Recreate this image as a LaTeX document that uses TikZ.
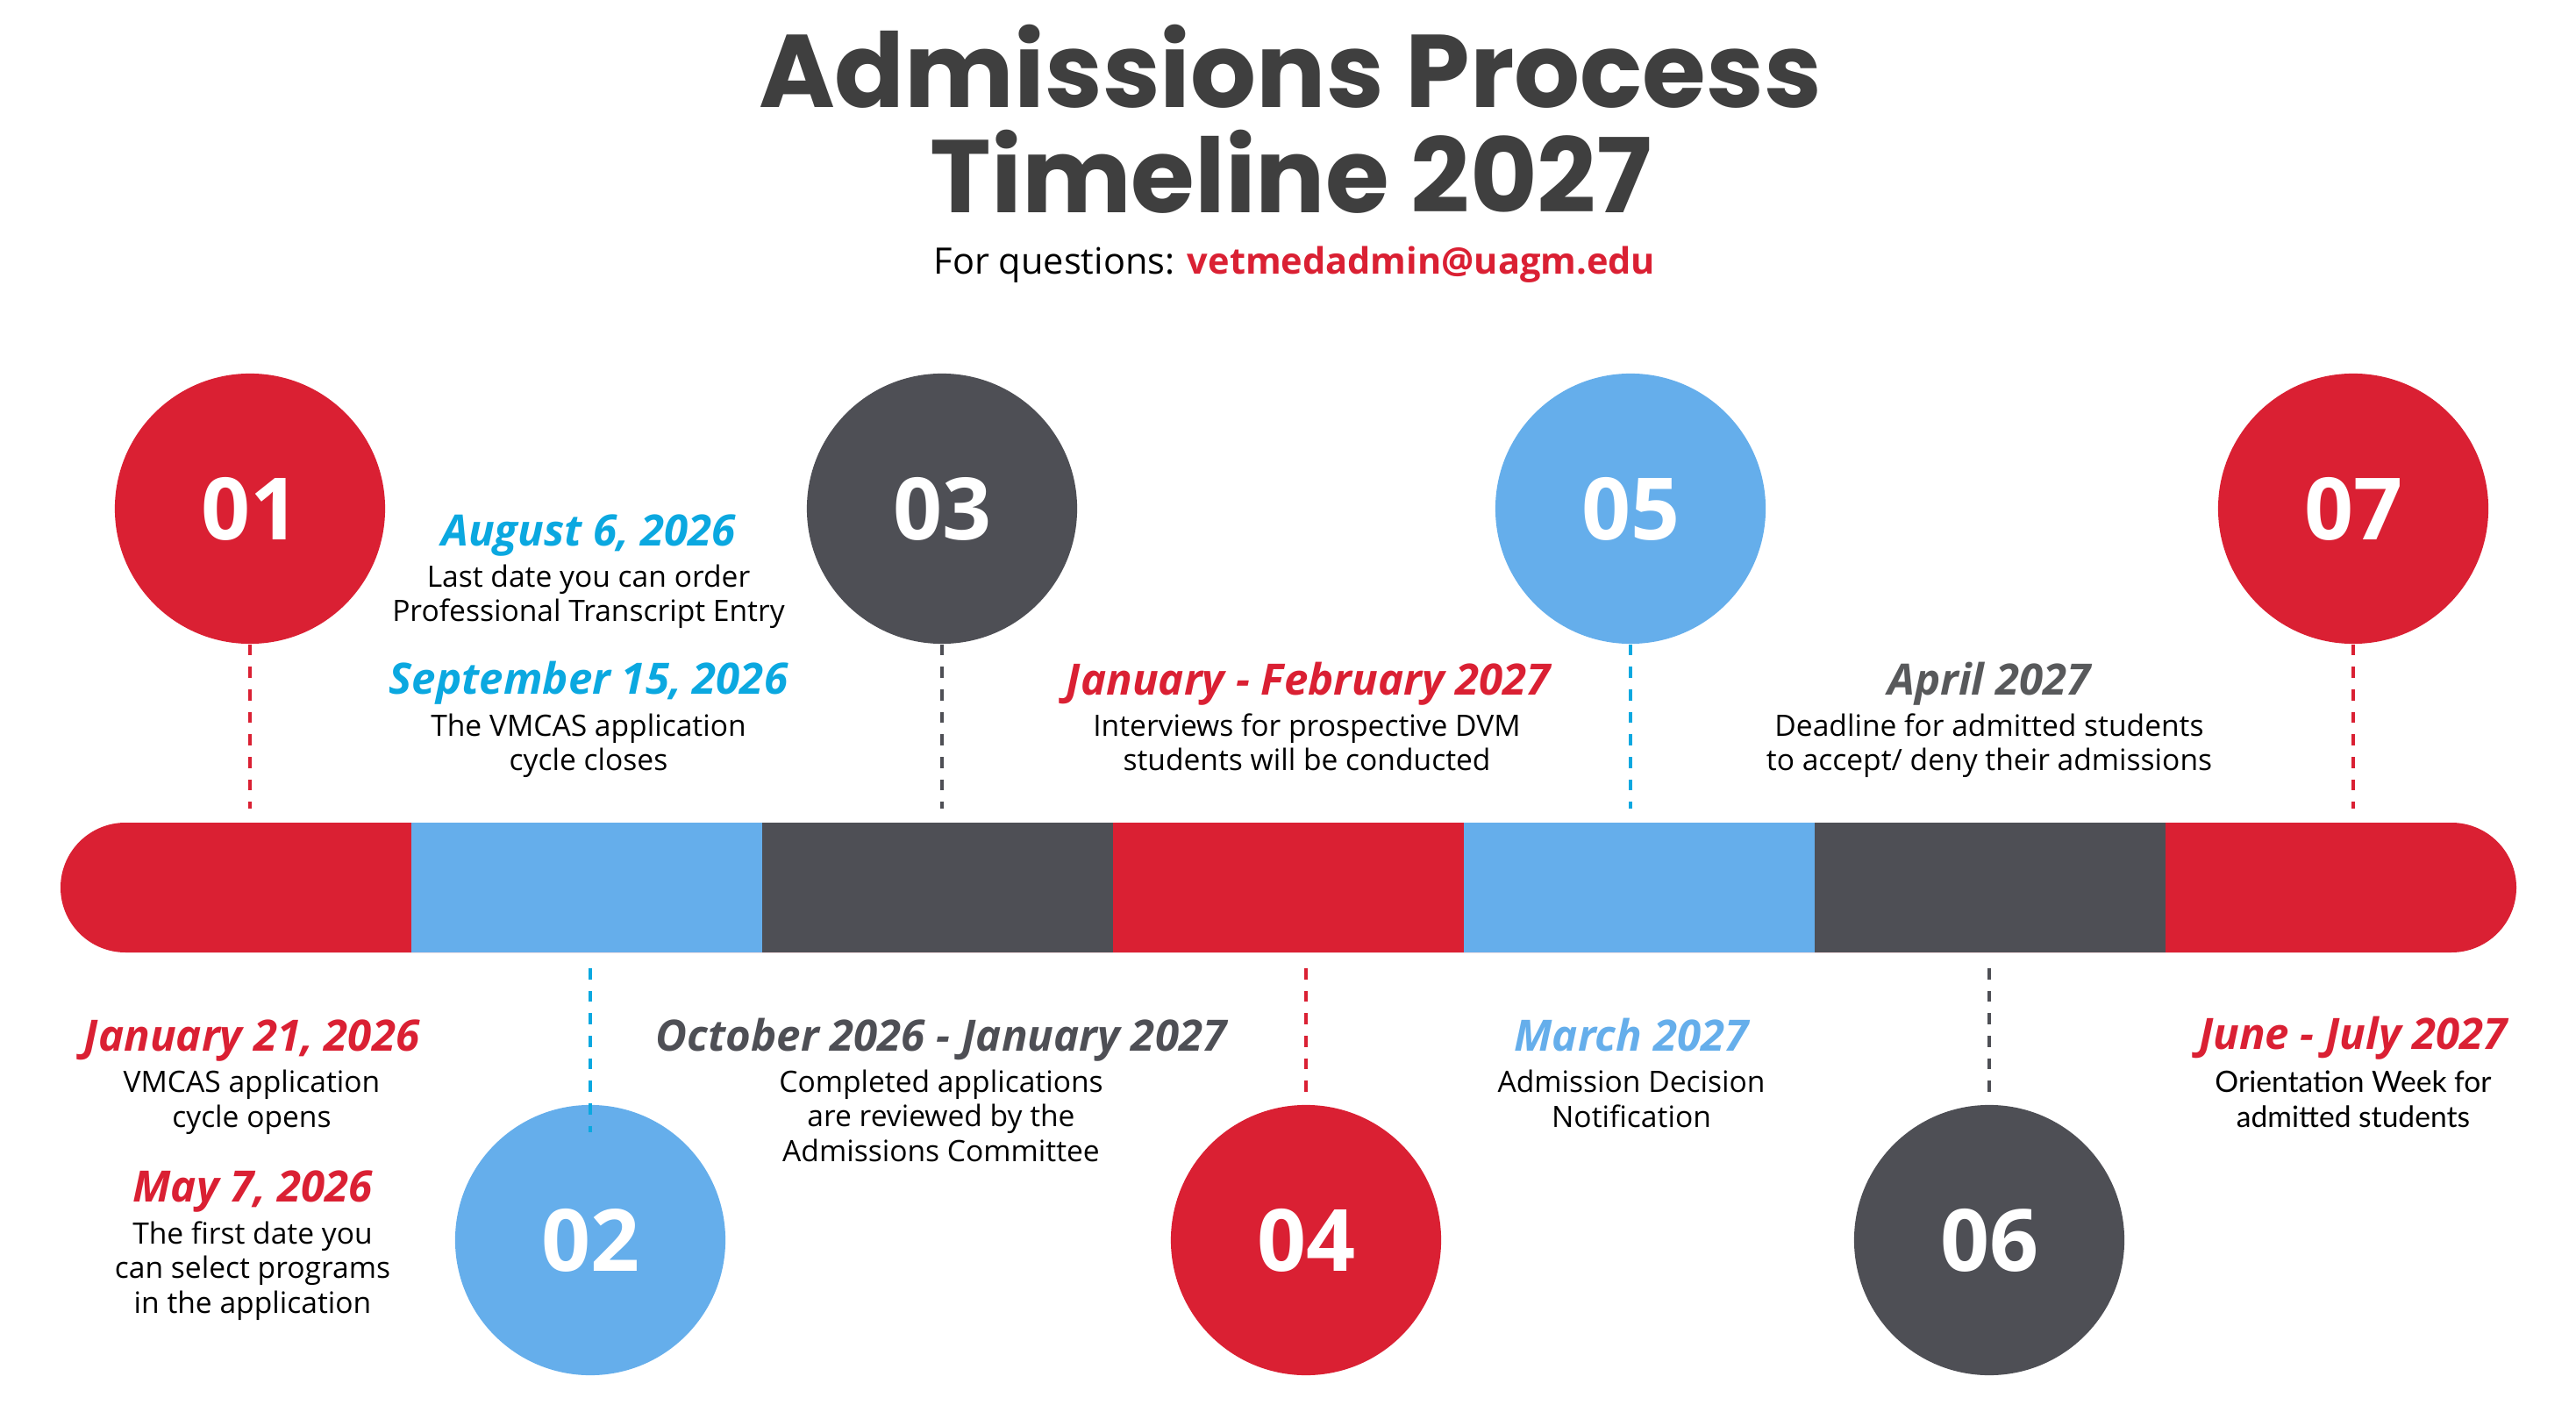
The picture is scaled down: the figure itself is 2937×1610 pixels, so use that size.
\documentclass[tikz,border=0pt]{standalone}
\usepackage{fontspec}
\setmainfont{Open Sans}
\newfontfamily\headfont{Poppins}
\newfontfamily\notefont{Lato}
\definecolor{uared}{HTML}{DA2033}
\definecolor{uablue}{HTML}{65AEEB}
\definecolor{uagray}{HTML}{4E4F55}
\definecolor{uacyan}{HTML}{0BA8E0}
\definecolor{uatitle}{HTML}{3F3F3F}
\definecolor{uaapril}{HTML}{58595B}
\tikzset{
  num/.style={circle, minimum size=3.08cm, inner sep=0pt, text=white,
    font=\fontsize{27.9}{30}\selectfont\bfseries},
  date/.style={anchor=base, font=\fontsize{14}{16}\selectfont\bfseries\itshape},
  desc/.style={anchor=base, align=center, font=\fontsize{9.55}{11.2}\selectfont},
  link/.style={dash pattern=on 3.6pt off 3.7pt, line width=1.3pt},
}
\begin{document}
\begin{tikzpicture}[x=0.01cm, y=-0.01cm]
    \useasboundingbox (0,0) rectangle (2937,1610);
    % heading
    \node[anchor=base, text=uatitle, font=\headfont\fontsize{33.5}{40}\selectfont\bfseries] (head1) at (1471,123) {Admissions Process};
    \node[anchor=base, text=uatitle, font=\headfont\fontsize{33.5}{40}\selectfont\bfseries] (head2) at (1472,243) {Timeline 2027};
    \node[anchor=base, font=\fontsize{11.8}{14}\selectfont] (mail) at (1476,313) {For questions: \textcolor{uared}{\bfseries vetmedadmin@uagm.edu}};
    % bar
    \fill[uared, rounded corners=0.74cm] (69,938) rectangle (2869,1086);
    \foreach \x/\col in {469/uablue, 869/uagray, 1269/uared, 1669/uablue, 2069/uagray}
      \fill[\col] (\x,938) rectangle (\x+400,1086);
    % steps
    \node[num, fill=uared] (c1) at (285,580) {01};
    \node[num, fill=uablue] (c2) at (673,1414) {02};
    \node[num, fill=uagray] (c3) at (1074,580) {03};
    \node[num, fill=uared] (c4) at (1489,1414) {04};
    \node[num, fill=uablue] (c5) at (1859,580) {05};
    \node[num, fill=uagray] (c6) at (2268,1414) {06};
    \node[num, fill=uared] (c7) at (2683,580) {07};
    \coordinate (t1) at (285,922);
    \coordinate (b2) at (673,1104);
    \coordinate (t3) at (1074,922);
    \coordinate (b4) at (1489,1104);
    \coordinate (t5) at (1859,922);
    \coordinate (b6) at (2268,1104);
    \coordinate (t7) at (2683,922);
    \draw[link, uared] (c1.south) -- (t1);
    \draw[link, uacyan] (b2) -- ([yshift=-0.32cm]c2.north);
    \draw[link, uagray] (c3.south) -- (t3);
    \draw[link, uared] (b4) -- ([yshift=0.09cm]c4.north);
    \draw[link, uacyan] (c5.south) -- (t5);
    \draw[link, uagray] (b6) -- ([yshift=0.09cm]c6.north);
    \draw[link, uared] (c7.south) -- (t7);
    % texts above the bar (desc nodes sit on their last line)
    \node[date, text=uacyan] (d2a) at (671,623) {August 6, 2026};
    \node[desc] (n2a) at (671,709) {Last date you can order\\Professional Transcript Entry};
    \node[date, text=uacyan] (d2b) at (671,792) {September 15, 2026};
    \node[desc] (n2b) at (671,879) {The VMCAS application\\cycle closes};
    \node[date, text=uared] (d4) at (1492,793) {January - February 2027};
    \node[desc] (n4) at (1490,879) {Interviews for prospective DVM\\students will be conducted};
    \node[date, text=uaapril] (d6) at (2268,793) {April 2027};
    \node[desc] (n6) at (2268,879) {Deadline for admitted students\\to accept/ deny their admissions};
    % texts below the bar
    \node[date, text=uared] (d1a) at (287,1198) {January 21, 2026};
    \node[desc] (n1a) at (287,1285) {VMCAS application\\cycle opens};
    \node[date, text=uared] (d1b) at (288,1370) {May 7, 2026};
    \node[desc] (n1b) at (288,1497) {The first date you\\can select programs\\in the application};
    \node[date, text=uagray] (d3) at (1073,1198) {October 2026 - January 2027};
    \node[desc] (n3) at (1073,1324) {Completed applications\\are reviewed by the\\Admissions Committee};
    \node[date, text=uablue] (d5) at (1860,1198) {March 2027};
    \node[desc] (n5) at (1860,1285) {Admission Decision\\Notification};
    \node[date, text=uared] (d7) at (2683,1196) {June - July 2027};
    \node[desc, font=\notefont\fontsize{9.55}{11.2}\selectfont] (n7) at (2683,1285) {Orientation Week for\\admitted students};
\end{tikzpicture}
\end{document}
